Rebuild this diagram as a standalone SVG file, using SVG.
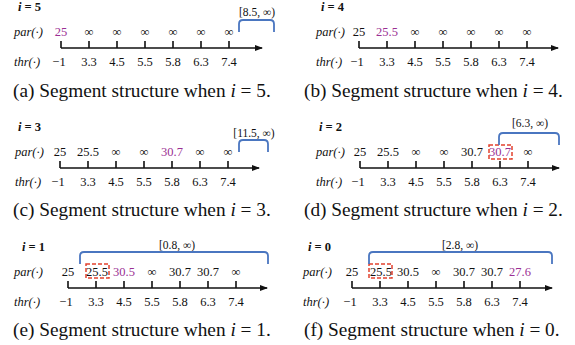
<svg xmlns="http://www.w3.org/2000/svg" width="575" height="345" viewBox="0 0 575 345">
<style>
text{font-family:"Liberation Serif","Times New Roman",serif;fill:#111}
.t{font-size:12.5px;font-weight:bold}
.lb{font-size:12.5px;font-style:italic}
.v{font-size:12.5px;text-anchor:middle}
.p{fill:#9b2f93}
.br{font-size:11.5px;text-anchor:middle}
.cap{font-size:19.3px;fill:#111}
.ax{stroke:#111;stroke-width:1.6;fill:none}
.tk{stroke:#111;stroke-width:1.6}
.bk{stroke:#4a76c0;stroke-width:1.8;fill:none}
.rb{stroke:#e2412e;stroke-width:1.5;stroke-dasharray:4 2;fill:none}
</style>
<defs>
<marker id="ar" markerWidth="8" markerHeight="6" refX="7" refY="3" orient="auto" markerUnits="userSpaceOnUse">
<path d="M0,0 L8,3 L0,6 z" fill="#111"/>
</marker>
</defs>

<!-- Panel (a) -->
<g id="panel-a">
<text class="t" x="18" y="11"><tspan font-style="italic">i</tspan> = 5</text>
<text class="lb" x="14" y="36">par(·)</text>
<text class="v p" x="61" y="36">25</text>
<text class="v" x="89" y="36">∞</text>
<text class="v" x="117" y="36">∞</text>
<text class="v" x="145" y="36">∞</text>
<text class="v" x="173" y="36">∞</text>
<text class="v" x="201" y="36">∞</text>
<text class="v" x="229" y="36">∞</text>
<text class="lb" x="14" y="66">thr(·)</text>
<text class="v" x="59" y="66">−1</text>
<text class="v" x="89" y="66">3.3</text>
<text class="v" x="117" y="66">4.5</text>
<text class="v" x="145" y="66">5.5</text>
<text class="v" x="173" y="66">5.8</text>
<text class="v" x="201" y="66">6.3</text>
<text class="v" x="229" y="66">7.4</text>
<text class="br" x="257" y="16">[8.5, ∞)</text>
<path class="bk" d="M239,32 L239,24 Q239,20 243,20 L270,20 Q274,20 274,24 L274,32"/>
<text class="cap" x="13" y="97">(a) Segment structure when <tspan font-style="italic">i</tspan> = 5.</text>
</g>

<!-- Panel (b) -->
<g id="panel-b">
<text class="t" x="321" y="11"><tspan font-style="italic">i</tspan> = 4</text>
<text class="lb" x="316" y="36">par(·)</text>
<text class="v" x="359" y="36">25</text>
<text class="v p" x="387" y="36">25.5</text>
<text class="v" x="415" y="36">∞</text>
<text class="v" x="443" y="36">∞</text>
<text class="v" x="471" y="36">∞</text>
<text class="v" x="499" y="36">∞</text>
<text class="v" x="527" y="36">∞</text>
<text class="lb" x="316" y="66">thr(·)</text>
<text class="v" x="357" y="66">−1</text>
<text class="v" x="387" y="66">3.3</text>
<text class="v" x="415" y="66">4.5</text>
<text class="v" x="443" y="66">5.5</text>
<text class="v" x="471" y="66">5.8</text>
<text class="v" x="499" y="66">6.3</text>
<text class="v" x="527" y="66">7.4</text>
<text class="cap" x="304" y="97">(b) Segment structure when <tspan font-style="italic">i</tspan> = 4.</text>
</g>

<!-- Panel (c) -->
<g id="panel-c">
<text class="t" x="18" y="131"><tspan font-style="italic">i</tspan> = 3</text>
<text class="lb" x="15" y="156">par(·)</text>
<text class="v" x="60" y="156">25</text>
<text class="v" x="88" y="156">25.5</text>
<text class="v" x="116" y="156">∞</text>
<text class="v" x="144" y="156">∞</text>
<text class="v p" x="172" y="156">30.7</text>
<text class="v" x="200" y="156">∞</text>
<text class="v" x="228" y="156">∞</text>
<text class="lb" x="15" y="186">thr(·)</text>
<text class="v" x="58" y="186">−1</text>
<text class="v" x="88" y="186">3.3</text>
<text class="v" x="116" y="186">4.5</text>
<text class="v" x="144" y="186">5.5</text>
<text class="v" x="172" y="186">5.8</text>
<text class="v" x="200" y="186">6.3</text>
<text class="v" x="228" y="186">7.4</text>
<text class="br" x="254" y="137">[11.5, ∞)</text>
<path class="bk" d="M239,152 L239,144 Q239,140 243,140 L264,140 Q268,140 268,144 L268,152"/>
<text class="cap" x="13" y="216">(c) Segment structure when <tspan font-style="italic">i</tspan> = 3.</text>
</g>

<!-- Panel (d) -->
<g id="panel-d">
<text class="t" x="319" y="131"><tspan font-style="italic">i</tspan> = 2</text>
<text class="lb" x="316" y="156">par(·)</text>
<text class="v" x="360" y="156">25</text>
<text class="v" x="388" y="156">25.5</text>
<text class="v" x="416" y="156">∞</text>
<text class="v" x="444" y="156">∞</text>
<text class="v" x="472" y="156">30.7</text>
<text class="v p" x="500" y="156">30.7</text>
<text class="v" x="528" y="156">∞</text>
<text class="lb" x="316" y="186">thr(·)</text>
<text class="v" x="358" y="186">−1</text>
<text class="v" x="388" y="186">3.3</text>
<text class="v" x="416" y="186">4.5</text>
<text class="v" x="444" y="186">5.5</text>
<text class="v" x="472" y="186">5.8</text>
<text class="v" x="500" y="186">6.3</text>
<text class="v" x="528" y="186">7.4</text>
<rect class="rb" x="489" y="145" width="23" height="14"/>
<text class="br" x="530" y="127">[6.3, ∞)</text>
<path class="bk" d="M499,145 L499,137 Q499,133 503,133 L555,133 Q559,133 559,137 L559,145"/>
<text class="cap" x="304" y="216">(d) Segment structure when <tspan font-style="italic">i</tspan> = 2.</text>
</g>

<!-- Panel (e) -->
<g id="panel-e">
<text class="t" x="22" y="251"><tspan font-style="italic">i</tspan> = 1</text>
<text class="lb" x="14" y="276">par(·)</text>
<text class="v" x="68" y="276">25</text>
<text class="v" x="97" y="276">25.5</text>
<text class="v p" x="124" y="276">30.5</text>
<text class="v" x="152" y="276">∞</text>
<text class="v" x="180" y="276">30.7</text>
<text class="v" x="208" y="276">30.7</text>
<text class="v" x="236" y="276">∞</text>
<text class="lb" x="14" y="306">thr(·)</text>
<text class="v" x="66" y="306">−1</text>
<text class="v" x="96" y="306">3.3</text>
<text class="v" x="124" y="306">4.5</text>
<text class="v" x="152" y="306">5.5</text>
<text class="v" x="180" y="306">5.8</text>
<text class="v" x="208" y="306">6.3</text>
<text class="v" x="236" y="306">7.4</text>
<rect class="rb" x="86" y="264" width="23" height="14"/>
<text class="br" x="177" y="249">[0.8, ∞)</text>
<path class="bk" d="M80,264 L80,256 Q80,252 84,252 L264,252 Q268,252 268,256 L268,264"/>
<text class="cap" x="13" y="336">(e) Segment structure when <tspan font-style="italic">i</tspan> = 1.</text>
</g>

<!-- Panel (f) -->
<g id="panel-f">
<text class="t" x="308" y="251"><tspan font-style="italic">i</tspan> = 0</text>
<text class="lb" x="303" y="276">par(·)</text>
<text class="v" x="352" y="276">25</text>
<text class="v" x="381" y="276">25.5</text>
<text class="v" x="408" y="276">30.5</text>
<text class="v" x="436" y="276">∞</text>
<text class="v" x="464" y="276">30.7</text>
<text class="v" x="492" y="276">30.7</text>
<text class="v p" x="520" y="276">27.6</text>
<text class="lb" x="303" y="306">thr(·)</text>
<text class="v" x="350" y="306">−1</text>
<text class="v" x="380" y="306">3.3</text>
<text class="v" x="408" y="306">4.5</text>
<text class="v" x="436" y="306">5.5</text>
<text class="v" x="464" y="306">5.8</text>
<text class="v" x="492" y="306">6.3</text>
<text class="v" x="520" y="306">7.4</text>
<rect class="rb" x="369" y="264" width="23" height="14"/>
<text class="br" x="460" y="249">[2.8, ∞)</text>
<path class="bk" d="M369,264 L369,256 Q369,252 373,252 L548,252 Q552,252 552,256 L552,264"/>
<text class="cap" x="304" y="336">(f) Segment structure when <tspan font-style="italic">i</tspan> = 0.</text>
</g>

<!-- Axes and ticks -->
<g id="connectors">
<path class="ax" d="M61,48 H262" marker-end="url(#ar)"/>
<path class="tk" d="M61,41V48M89,41V48M117,41V48M145,41V48M173,41V48M201,41V48M229,41V48"/>
<path class="ax" d="M359,48 H558" marker-end="url(#ar)"/>
<path class="tk" d="M359,41V48M387,41V48M415,41V48M443,41V48M471,41V48M499,41V48M527,41V48"/>
<path class="ax" d="M60,168 H259" marker-end="url(#ar)"/>
<path class="tk" d="M60,161V168M88,161V168M116,161V168M144,161V168M172,161V168M200,161V168M228,161V168"/>
<path class="ax" d="M360,168 H559" marker-end="url(#ar)"/>
<path class="tk" d="M360,161V168M388,161V168M416,161V168M444,161V168M472,161V168M500,161V168M528,161V168"/>
<path class="ax" d="M68,288 H267" marker-end="url(#ar)"/>
<path class="tk" d="M68,281V288M96,281V288M124,281V288M152,281V288M180,281V288M208,281V288M236,281V288"/>
<path class="ax" d="M352,288 H552" marker-end="url(#ar)"/>
<path class="tk" d="M352,281V288M380,281V288M408,281V288M436,281V288M464,281V288M492,281V288M520,281V288"/>
</g>
</svg>
